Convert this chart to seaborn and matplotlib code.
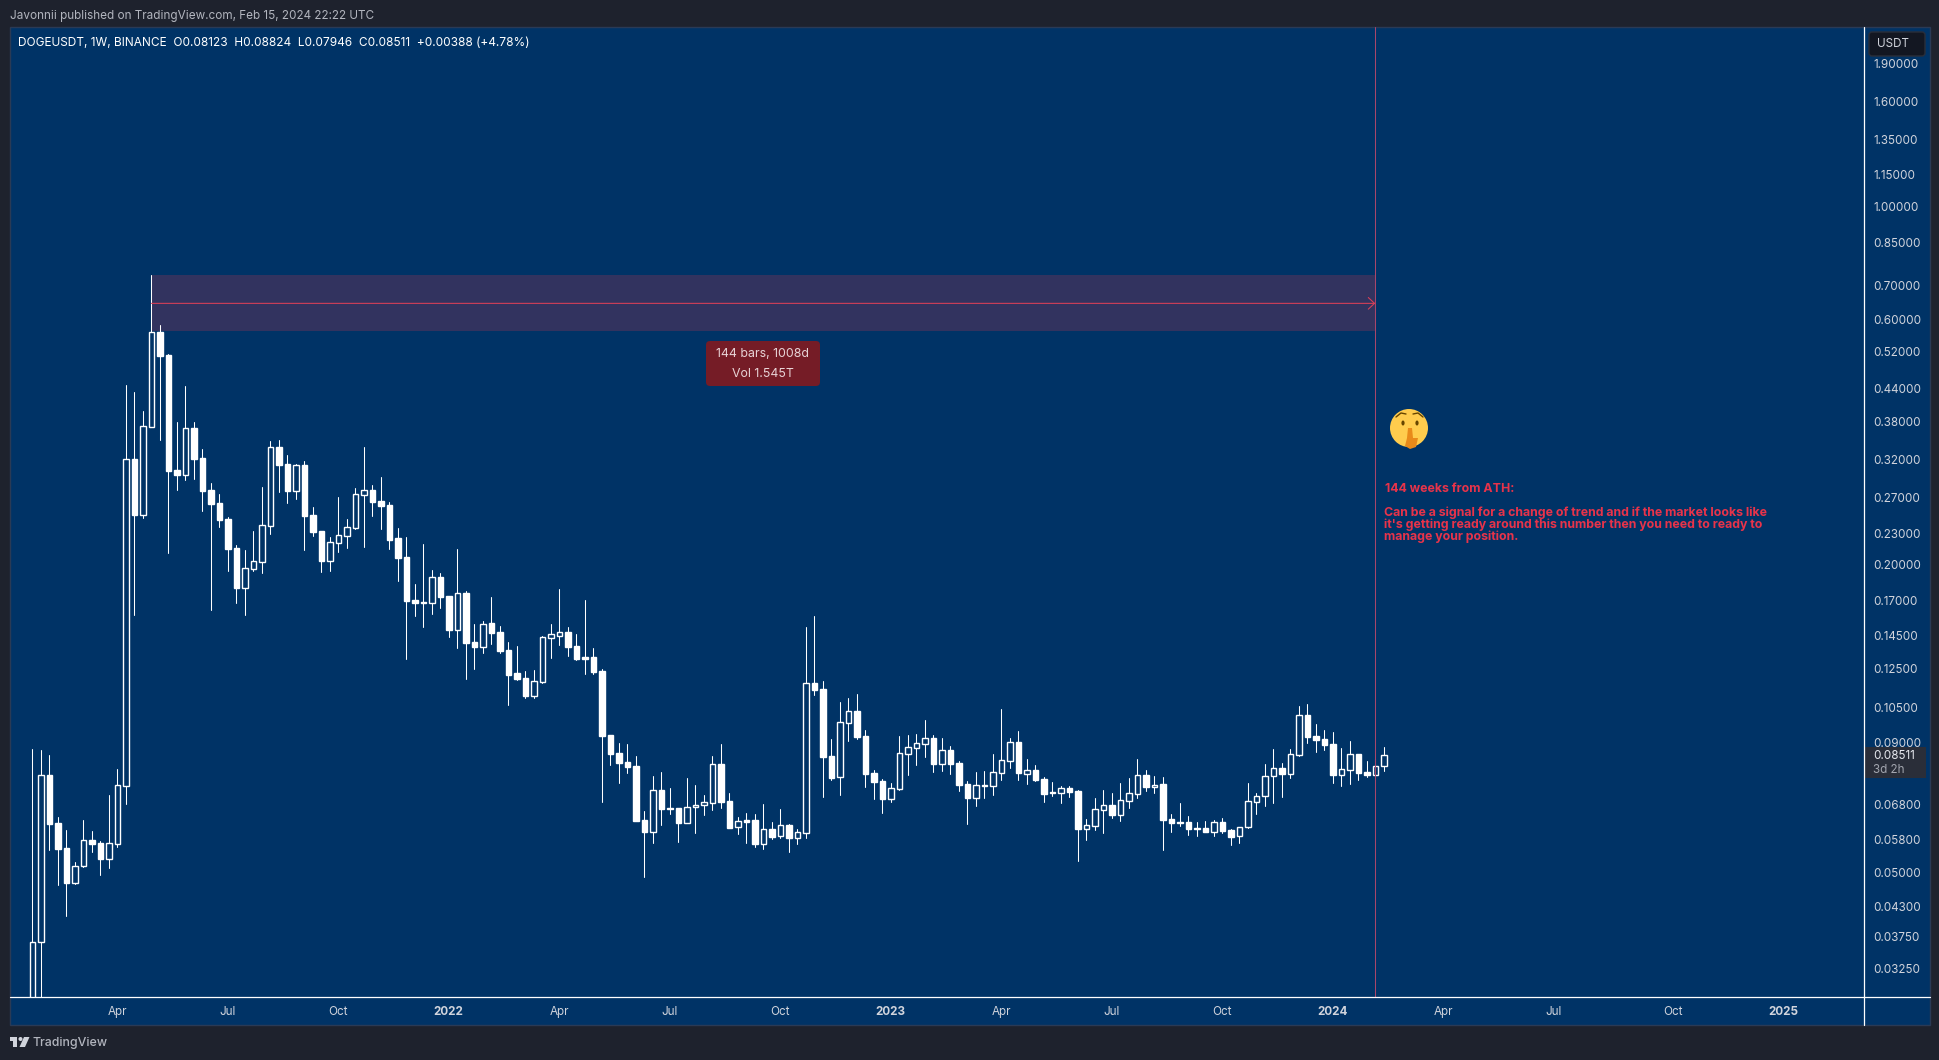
import numpy as np
import pandas as pd
import seaborn as sns
import matplotlib
matplotlib.use("Agg")
import matplotlib.pyplot as plt
import matplotlib.dates as mdates
from matplotlib.patches import Rectangle, FancyBboxPatch, Circle, Ellipse, Polygon
from matplotlib.transforms import ScaledTranslation

# ---------- data ----------
first_week = "2021-01-25"
highs = [.0876,.0872,.0853,.0645,.0609,.0527,.0637,.0606,.0579,.0713,
.0801,.4495,.4356,.3999,.7376,.5885,.5166,.3807,.4475,.3807,
.3372,.2894,.2754,.2484,.2190,.2142,.2332,.2842,.3495,.3511,
.3283,.3152,.3195,.2598,.2332,.2271,.2717,.2462,.2830,.3403,
.2868,.2973,.2657,.2365,.2271,.1839,.2200,.1958,.1932,.1742,
.2152,.1782,.1536,.1557,.1735,.1522,.1417,.1392,.1244,.1250,
.1455,.1536,.1798,.1516,.1468,.1711,.1380,.1256,.0933,.0900,
.0896,.0849,.0663,.0776,.0790,.0735,.0672,.0769,.0745,.0713,
.0849,.0896,.0719,.0645,.0657,.0654,.0685,.0631,.0669,.0626,
.0612,.1516,.1592,.1190,.0916,.1082,.1102,.1122,.0954,.0797,
.0765,.0752,.0929,.0933,.0937,.0998,.0933,.0920,.0888,.0830,
.0759,.0790,.0793,.0856,.1049,.0920,.0950,.0838,.0815,.0772,
.0755,.0742,.0742,.0729,.0640,.0703,.0729,.0719,.0752,.0769,
.0838,.0797,.0776,.0772,.0654,.0688,.0648,.0631,.0634,.0637,
.0643,.0612,.0617,.0752,.0719,.0819,.0876,.0823,.0876,.1063,
.1073,.0981,.0954,.0946,.0880,.0908,.0856,.0830,.0838,.08824]
lows = [.0077,.0280,.0557,.0476,.0414,.0478,.0516,.0552,.0498,.0513,
.0564,.0685,.1600,.2473,.3720,.3511,.2113,.2804,.2933,.2946,
.2552,.1636,.2375,.1949,.1688,.1600,.1949,.1932,.2301,.2779,
.2645,.2693,.2142,.2281,.1941,.1949,.2123,.2161,.2354,.2171,
.2495,.2354,.2152,.1864,.1313,.1592,.1516,.1607,.1651,.1449,
.1380,.1201,.1256,.1349,.1405,.1349,.1068,.1195,.1102,.1102,
.1179,.1319,.1398,.1331,.1307,.1228,.1228,.0691,.0815,.0752,
.0786,.0634,.0493,.0574,.0623,.0654,.0577,.0628,.0601,.0651,
.0666,.0672,.0615,.0598,.0574,.0564,.0559,.0585,.0587,.0552,
.0572,.0587,.1117,.0706,.0762,.0713,.0908,.0916,.0738,.0700,
.0657,.0691,.0729,.0779,.0815,.0845,.0790,.0793,.0783,.0726,
.0626,.0678,.0703,.0713,.0762,.0804,.0762,.0748,.0759,.0691,
.0710,.0688,.0706,.0530,.0582,.0609,.0601,.0643,.0634,.0672,
.0703,.0726,.0719,.0557,.0604,.0620,.0596,.0593,.0603,.0593,
.0601,.0569,.0574,.0615,.0654,.0679,.0688,.0706,.0769,.0849,
.0900,.0864,.0872,.0752,.0742,.0748,.0762,.0772,.0776,.07946]
opens = [.0086,.0369,.0778,.0628,.0562,.0481,.0518,.0582,.0574,.0535,
.0572,.0743,.3219,.2509,.3727,.5704,.5143,.3068,.3004,.3706,
.3239,.2804,.2645,.2462,.2161,.1808,.1970,.2032,.2389,.3403,
.3152,.2795,.3138,.2506,.2332,.2042,.2213,.2284,.2368,.2745,
.2804,.2669,.2622,.2260,.2076,.1711,.1696,.1690,.1897,.1742,
.1497,.1766,.1417,.1388,.1543,.1482,.1367,.1233,.1206,.1113,
.1186,.1444,.1457,.1482,.1392,.1325,.1325,.1244,.0933,.0860,
.0827,.0812,.0637,.0604,.0729,.0672,.0672,.0629,.0675,.0681,
.0688,.0819,.0694,.0616,.0637,.0637,.0572,.0612,.0592,.0623,
.0588,.0602,.1179,.1147,.0849,.0771,.0986,.1039,.0929,.0786,
.0759,.0701,.0733,.0857,.0881,.0897,.0920,.0820,.0872,.0823,
.0748,.0704,.0745,.0743,.0787,.0831,.0904,.0783,.0797,.0765,
.0722,.0720,.0735,.0726,.0612,.0621,.0667,.0681,.0652,.0695,
.0717,.0779,.0740,.0748,.0640,.0631,.0631,.0615,.0615,.0604,
.0631,.0609,.0592,.0616,.0692,.0711,.0777,.0804,.0784,.0854,
.1021,.0929,.0916,.0896,.0780,.0798,.0856,.0790,.0779,.08123]
closes = [.0369,.0778,.0626,.0559,.0480,.0519,.0581,.0572,.0535,.0574,
.0744,.3219,.2506,.3734,.5696,.5120,.3054,.3000,.3701,.3224,
.2791,.2633,.2451,.2152,.1806,.1973,.2036,.2393,.3398,.3138,
.2791,.3133,.2495,.2322,.2039,.2217,.2288,.2372,.2750,.2800,
.2657,.2610,.2240,.2067,.1703,.1688,.1690,.1895,.1735,.1495,
.1764,.1411,.1386,.1534,.1475,.1361,.1222,.1201,.1112,.1188,
.1447,.1466,.1480,.1386,.1313,.1313,.1239,.0929,.0856,.0823,
.0808,.0634,.0604,.0728,.0669,.0669,.0628,.0675,.0681,.0690,
.0818,.0691,.0615,.0634,.0631,.0572,.0611,.0590,.0622,.0587,
.0603,.1177,.1142,.0845,.0769,.0988,.1038,.0924,.0783,.0755,
.0700,.0735,.0859,.0883,.0899,.0919,.0819,.0871,.0819,.0745,
.0703,.0744,.0742,.0789,.0833,.0903,.0786,.0796,.0762,.0716,
.0719,.0735,.0722,.0612,.0622,.0668,.0681,.0651,.0696,.0718,
.0778,.0738,.0747,.0637,.0628,.0628,.0612,.0612,.0604,.0631,
.0606,.0590,.0617,.0693,.0711,.0777,.0803,.0783,.0855,.1021,
.0924,.0912,.0892,.0779,.0800,.0855,.0786,.0779,.08123,.08511]

price_ticks = [1.9,1.6,1.35,1.15,1.0,.85,.7,.6,.52,.44,.38,.32,.27,.23,.2,.17,
               .145,.125,.105,.09,.068,.058,.05,.043,.0375,.0325]
time_tick_dates = ["2021-04-05","2021-07-05","2021-10-04","2022-01-03","2022-04-04",
                   "2022-07-04","2022-10-03","2023-01-02","2023-04-03","2023-07-03",
                   "2023-10-02","2024-01-01","2024-04-01","2024-07-01","2024-10-07","2025-01-06"]
time_tick_labels = ["Apr","Jul","Oct","2022","Apr","Jul","Oct","2023","Apr","Jul","Oct",
                    "2024","Apr","Jul","Oct","2025"]
range_start, range_end = "2021-05-03", "2024-02-05"
range_high, range_mid, range_low = 0.7376, 0.6487, 0.5730

# ---------- style ----------
NAVY, DARK, TXT, RED = "#003366", "#1e222d", "#d1d4dc", "#e8334a"
sns.set_theme(style="dark", rc={"axes.grid": False})
plt.rcParams["font.family"] = ["Inter", "DejaVu Sans"]

W, H = 1940, 1060
fig = plt.figure(figsize=(W/100, H/100), dpi=100, facecolor=DARK)

# pixel-space layers for the TradingView chrome
bg = fig.add_axes([0, 0, 1, 1], zorder=0)
bg.set_xlim(0, W); bg.set_ylim(H, 0); bg.axis("off")
bg.add_patch(Rectangle((10, 27), 1920, 998, fc=NAVY, ec="#2a3a55", lw=1))

L, R, T, B = 10.5, 1864, 27, 997
ax = fig.add_axes([L/W, 1-B/H, (R-L)/W, (B-T)/H], zorder=1, facecolor="none")
ov = fig.add_axes([0, 0, 1, 1], zorder=2, facecolor="none")
ov.set_xlim(0, W); ov.set_ylim(H, 0); ov.axis("off")

# ---------- candles ----------
dates = pd.date_range(first_week, periods=len(highs), freq="7D")
df = pd.DataFrame({"date": dates, "high": highs, "low": lows, "open": opens, "close": closes})
wicks = df.melt(id_vars="date", value_vars=["low", "high"], value_name="price")

ax.set_yscale("log")
sns.lineplot(data=wicks, x="date", y="price", units="date", estimator=None, sort=False,
             color="white", lw=0.75, ax=ax, zorder=3, legend=False)
up = df["close"] >= df["open"]
body_low = df[["open", "close"]].min(axis=1)
body_h = df[["open", "close"]].max(axis=1) - body_low
ax.bar(df["date"], body_h, bottom=body_low, width=4.5,
       color=[NAVY if u else "white" for u in up], edgecolor="white", linewidth=1.0, zorder=4)

# ---------- axes ----------
t0 = mdates.date2num(pd.Timestamp(first_week))
px_per_day = 8.5 / 7
ax.set_xlim(t0 + (L - 32.3)/px_per_day, t0 + (R - 32.3)/px_per_day)
ax.set_ylim(0.02876, 2.2448)
ax.set_xlabel(""); ax.set_ylabel("")
for s in ax.spines.values():
    s.set_visible(False)
ax.yaxis.tick_right()
ax.set_yticks(price_ticks)
ax.set_yticklabels([f"{v:.5f}" for v in price_ticks])
ax.yaxis.set_minor_locator(matplotlib.ticker.NullLocator())
ax.tick_params(axis="y", length=0, pad=6.5, labelsize=8.4, labelcolor=TXT)
ax.set_xticks(pd.to_datetime(time_tick_dates))
ax.set_xticklabels(time_tick_labels)
ax.tick_params(axis="x", length=0, pad=6.5, labelsize=8.4, labelcolor=TXT)
for lab in ax.get_xticklabels():
    if lab.get_text().isdigit():
        lab.set_fontweight("bold")
up_1px = ScaledTranslation(0, 1/100, fig.dpi_scale_trans)
for lab in ax.get_yticklabels():
    lab.set_transform(lab.get_transform() + up_1px)

# ---------- drawing tools ----------
ax.fill_between(pd.to_datetime([range_start, range_end]), range_low, range_high,
                color="#32335f", lw=0, zorder=2)
ax.annotate("", xy=(pd.Timestamp(range_end), range_mid), xytext=(pd.Timestamp(range_start), range_mid),
            arrowprops=dict(arrowstyle="->,head_length=0.45,head_width=0.42", color="#dc4058", lw=0.75,
                            shrinkA=0, shrinkB=0, mutation_scale=10), zorder=5)
ax.axvline(pd.Timestamp(range_end), color="#a8466a", lw=0.75, zorder=5)

# ---------- chrome ----------
ov.plot([10, 1930], [997, 997], color="white", lw=0.9)
ov.plot([1864, 1864], [27, 1025], color="white", lw=0.9)

ov.text(10, 16, "Javonnii published on TradingView.com, Feb 15, 2024 22:22 UTC",
        color="#b2b5be", fontsize=8.45, va="center")
ov.text(18, 43, "DOGEUSDT, 1W, BINANCE  O0.08123  H0.08824  L0.07946  C0.08511  +0.00388 (+4.78%)",
        color="white", fontsize=8.55, va="center")

ov.add_patch(FancyBboxPatch((1869, 32), 56, 24, boxstyle="round,pad=0,rounding_size=3",
                            fc="#131722", ec="#2a2e39", lw=1))
ov.text(1893, 44, "USDT", color=TXT, fontsize=8.4, ha="center", va="center")

ov.add_patch(Rectangle((1864, 747), 62, 31, fc="#2a2e39", ec="none"))
ov.text(1873, 756, "0.08511", color="#e6e8ee", fontsize=8.4, va="center")
ov.text(1873, 770, "3d 2h", color="#a3a6af", fontsize=8.4, va="center")

ov.add_patch(FancyBboxPatch((706, 341), 114, 45, boxstyle="round,pad=0,rounding_size=4",
                            fc="#751c26", ec="none"))
ov.text(763, 354, "144 bars, 1008d", color="#e8d3d6", fontsize=8.9, ha="center", va="center")
ov.text(763, 374, "Vol 1.545T", color="#e8d3d6", fontsize=8.9, ha="center", va="center")

ann_kw = dict(color=RED, fontsize=8.9, fontweight="bold", va="center")
ov.text(1385, 489, "144 weeks from ATH:", **ann_kw)
ov.text(1384, 513, "Can be a signal for a change of trend and if the market looks like", **ann_kw)
ov.text(1384, 525, "it's getting ready around this number then you need to ready to", **ann_kw)
ov.text(1384, 537, "manage your position.", **ann_kw)

# shushing face
ov.add_patch(Circle((1409, 428), 19, fc="#FFCC4D", ec="none"))
ov.add_patch(Ellipse((1403, 423), 3.2, 5, fc="#664500", ec="none"))
ov.add_patch(Ellipse((1417, 423), 3.2, 5, fc="#664500", ec="none"))
ov.plot([1396, 1401, 1406], [417, 413, 414], color="#664500", lw=1.0)
ov.plot([1413, 1418, 1423], [414, 413, 417], color="#664500", lw=1.0)
ov.add_patch(Polygon([(1408, 428), (1412, 428), (1413, 438), (1418, 438), (1416, 447),
                      (1410, 449), (1405, 446), (1407, 438)], fc="#E88A1A", ec="none"))

# logo and footer
ov.add_patch(Rectangle((10, 1037), 7.5, 3.5, fc=TXT, ec="none"))
ov.add_patch(Rectangle((13.5, 1037), 4, 10, fc=TXT, ec="none"))
ov.add_patch(Circle((20.5, 1039), 2, fc=TXT, ec="none"))
ov.add_patch(Polygon([(24, 1037), (29.5, 1037), (25, 1047), (19.5, 1047)], fc=TXT, ec="none"))
ov.text(33, 1043, "TradingView", color="#b2b5be", fontsize=8.9, fontweight="medium", va="center")

fig.savefig("out.png", dpi=100, facecolor=DARK)
